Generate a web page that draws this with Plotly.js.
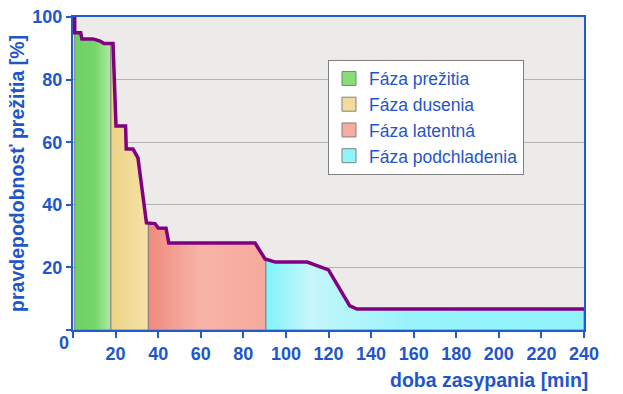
<!DOCTYPE html>
<html><head><meta charset="utf-8">
<script src="https://cdn.plot.ly/plotly-3.0.1.min.js"></script>
<style>html,body{margin:0;padding:0;background:#fff}</style>
</head><body><div id="chart" style="width:623px;height:394px"></div>
<script>
// Survival curve (time in minutes, survival probability in %)
const time = [0.8, 0.8, 3.6, 4.2, 9.4, 12.7, 14.6, 18.8, 20.2, 24.7, 25.0, 28.2, 30.5, 34.5, 38.5, 40.0, 43.7, 45.0, 85.5, 90.2, 95.0, 110.0, 120.0, 130.0, 133.4, 240];
const survival = [100, 95, 95, 93, 93, 92.3, 91.5, 91.5, 65.2, 65.2, 57.8, 57.8, 55, 34.2, 34, 32.6, 32.5, 27.8, 27.8, 22.7, 21.7, 21.7, 19.2, 7.7, 6.7, 6.7];

// Phases
const phaseNames = ['Fáza prežitia', 'Fáza dusenia', 'Fáza latentná', 'Fáza podchladenia'];
const phaseStart = [0, 17.8, 35.4, 90.6];
const phaseEnd = [17.8, 35.4, 90.6, 240];

// Axis ticks
const xTicks = [0, 20, 40, 60, 80, 100, 120, 140, 160, 180, 200, 220, 240];
const yTicks = [0, 20, 40, 60, 80, 100];

const phaseColors = ['#88dd77', '#f3dc9b', '#f7ada0', '#8ef5fa'];
const phaseScales = [
  [[0, '#6dd265'], [0.55, '#74d66a'], [1, '#b2e8a4']],
  [[0, '#edd385'], [1, '#f6e2a8']],
  [[0, '#ef8b7e'], [0.45, '#f8b4a8'], [1, '#f5aa9c']],
  [[0, '#80f2fa'], [0.14, '#c6f6fa'], [0.45, '#97f4fa'], [1, '#90f3fa']]
];
const BLUE = '#1f56c8';
const AXIS = '#1f5cd0';
const FONT = 'Liberation Sans, Arial, sans-serif';

function interp(x) {
  for (let i = 0; i < time.length - 1; i++) {
    if (time[i] <= x && x <= time[i + 1]) {
      if (time[i + 1] === time[i]) return survival[i];
      const f = (x - time[i]) / (time[i + 1] - time[i]);
      return survival[i] + f * (survival[i + 1] - survival[i]);
    }
  }
  return survival[survival.length - 1];
}
function slicePhase(x0, x1) {
  const a = Math.max(x0, time[0]);
  const b = Math.min(x1, time[time.length - 1]);
  const xs = [a], ys = [0];
  if (!time.includes(a)) { xs.push(a); ys.push(interp(a)); }
  for (let i = 0; i < time.length; i++) {
    if (time[i] >= a && time[i] <= b) { xs.push(time[i]); ys.push(survival[i]); }
  }
  if (!time.includes(b)) { xs.push(b); ys.push(interp(b)); }
  xs.push(b); ys.push(0);
  xs.push(a); ys.push(0);
  return {xs, ys};
}

const traces = [];
phaseNames.forEach((name, k) => {
  const p = slicePhase(phaseStart[k], phaseEnd[k]);
  traces.push({
    type: 'scatter', mode: 'lines', x: p.xs, y: p.ys, fill: 'toself',
    fillcolor: phaseColors[k],
    fillgradient: {type: 'horizontal', colorscale: phaseScales[k]},
    line: {color: '#808080', width: 1}, showlegend: false, hoverinfo: 'skip'
  });
});
traces.push({
  type: 'scatter', mode: 'lines', x: time, y: survival,
  line: {color: '#800080', width: 3.5}, showlegend: false, hoverinfo: 'skip'
});
phaseNames.forEach((name, k) => {
  traces.push({
    type: 'scatter', mode: 'markers', x: [null], y: [null], name: name,
    marker: {symbol: 'square', size: 14, color: phaseColors[k], line: {color: '#808080', width: 1}}
  });
});

const layout = {
  width: 623, height: 394,
  margin: {l: 73, r: 39, t: 17, b: 64},
  paper_bgcolor: '#ffffff', plot_bgcolor: '#edeaea',
  font: {family: FONT, color: BLUE},
  showlegend: true,
  legend: {
    x: 0.499, y: 0.864, xanchor: 'left', yanchor: 'top',
    bgcolor: '#ffffff', bordercolor: '#808080', borderwidth: 1,
    font: {family: FONT, size: 17.5, color: BLUE}
  },
  xaxis: {
    range: [0, 240], tickvals: xTicks,
    ticktext: xTicks.map(v => v === 0 ? '' : String(v)),
    showgrid: false, zeroline: false,
    showline: true, linecolor: AXIS, linewidth: 2, mirror: true,
    ticks: 'outside', ticklen: 6, tickwidth: 2, tickcolor: AXIS,
    tickfont: {family: FONT, size: 18, color: BLUE, weight: 'bold'}
  },
  yaxis: {
    range: [0, 100], tickvals: yTicks,
    ticktext: yTicks.map(v => v === 0 ? '' : String(v)),
    showgrid: true, gridcolor: '#b4b4b4', gridwidth: 1, zeroline: false,
    showline: true, linecolor: AXIS, linewidth: 2, mirror: true,
    ticks: 'outside', ticklen: 5, tickwidth: 2, tickcolor: AXIS,
    tickfont: {family: FONT, size: 18, color: BLUE, weight: 'bold'},
    title: {text: 'pravdepodobnosť prežitia [%]', standoff: 3,
            font: {family: FONT, size: 19.5, color: BLUE, weight: 'bold'}}
  },
  annotations: [
    {text: '0', xref: 'paper', yref: 'paper', x: -0.0176, y: -0.0415,
     xanchor: 'center', yanchor: 'middle', showarrow: false,
     font: {family: FONT, size: 18, color: BLUE, weight: 'bold'}},
    {text: 'doba zasypania [min]', xref: 'paper', yref: 'paper', x: 1.012, y: -0.16,
     xanchor: 'right', yanchor: 'middle', showarrow: false,
     font: {family: FONT, size: 19.5, color: BLUE, weight: 'bold'}}
  ]
};

Plotly.newPlot('chart', traces, layout, {staticPlot: true, displayModeBar: false});
</script>
</body></html>
